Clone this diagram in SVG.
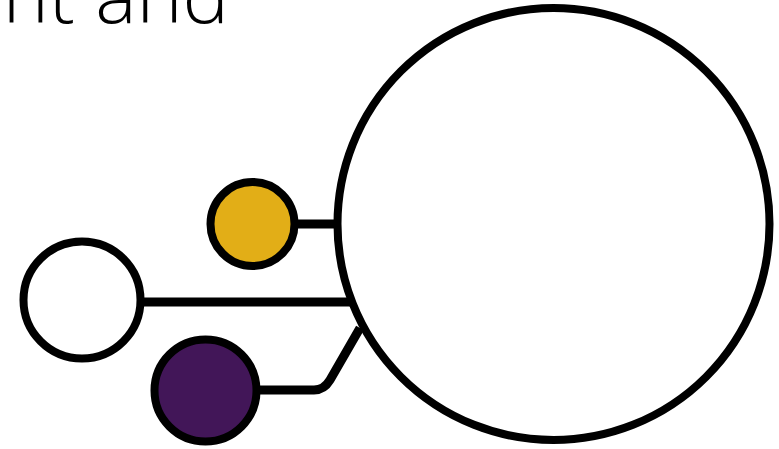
<svg xmlns="http://www.w3.org/2000/svg" width="779" height="449" viewBox="0 0 779 449">
<style>
.node{stroke:#000;stroke-width:8}
.conn{fill:none;stroke:#000;stroke-width:9;stroke-linejoin:round}
.label{font-family:"Open Sans","Liberation Sans",sans-serif;font-weight:300;fill:#000}
</style>
<rect width="779" height="449" fill="#fff"/>
<text class="label" x="229" y="23" font-size="78" text-anchor="end">nt and</text>
<g id="connectors">
<line class="conn" x1="294" y1="224" x2="340" y2="224"/>
<line class="conn" x1="143" y1="302" x2="352" y2="302"/>
<path class="conn" d="M258 390 H314 Q324 390 330 380 L360 328"/>
</g>
<g id="big"><circle class="node" cx="553.5" cy="224" r="216" fill="#fff" stroke-width="8.5"/></g>
<g id="yellow"><circle class="node" cx="252.5" cy="224" r="42" fill="#e2ae17"/></g>
<g id="white"><circle class="node" cx="82" cy="300" r="58.5" fill="#fff"/></g>
<g id="purple"><circle class="node" cx="205.5" cy="390.5" r="51" fill="#421658"/></g>
</svg>
